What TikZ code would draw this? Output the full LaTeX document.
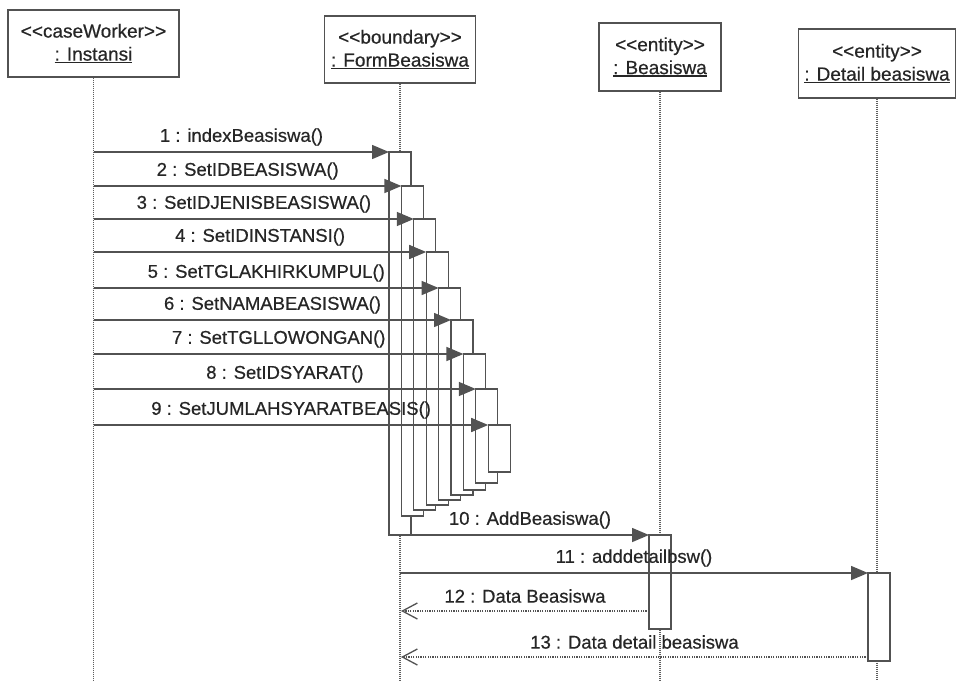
\documentclass[tikz,border=0pt]{standalone}
\usepackage{fontspec}
\setmainfont{Liberation Sans}[FakeBold=0.5]
\usetikzlibrary{arrows.meta}

\definecolor{ink}{HTML}{262626}
\definecolor{edge}{HTML}{525252}
\definecolor{life}{HTML}{5E5E5E}

% separate angle brackets so they never merge into guillemets
\newcommand\ltmark{\mbox{<}}
\newcommand\gtmark{\mbox{>}}
\newcommand\stereo[1]{\ltmark\ltmark#1\gtmark\gtmark}
% underlined object name with a firm rule
\newcommand\objname[1]{\setbox0\hbox{#1}\rlap{\rule[-2.6pt]{\wd0}{1.2pt}}\box0}

\tikzset{
  obj/.style={draw=edge, line width=1.4pt, fill=white, align=center,
    inner sep=0pt, text=ink, font=\fontsize{19}{23}\selectfont},
  lifeline/.style={draw=life, line width=1.4pt, dash pattern=on 1pt off 1pt},
  actbox/.style={draw=edge, line width=1.3pt, fill=white, inner sep=0pt,
    outer sep=0pt, minimum width=22pt, anchor=north west},
  call/.style={draw=edge, line width=1.5pt, -{Triangle[length=17pt,width=14pt]}},
  reply/.style={draw=edge, line width=1.3pt, dash pattern=on 1.2pt off 1.2pt,
    -{Straight Barb[length=15pt,width=16pt]}},
  msg/.style={text=ink, inner sep=0pt, font=\fontsize{18.5}{22}\selectfont}
}

\begin{document}
\begin{tikzpicture}[x=1pt,y=-1pt]
\fill[white] (0,0) rectangle (957,680);
\useasboundingbox (0,0) rectangle (957,680);

% participants
\node[obj, minimum width=171pt, minimum height=67pt] (inst) at (93.5,43.5)
  {\stereo{caseWorker}\\\objname{: Instansi}};
\node[obj, minimum width=151pt, minimum height=67pt] (form) at (400,49.5)
  {\stereo{boundary}\\\objname{: FormBeasiswa}};
\node[obj, minimum width=122pt, minimum height=68pt] (beas) at (660,57)
  {\stereo{entity}\\\objname{: Beasiswa}};
\node[obj, minimum width=157pt, minimum height=69pt] (det) at (877,63.5)
  {\stereo{entity}\\\objname{: Detail beasiswa}};

% lifelines
\draw[lifeline] (inst.south) -- (inst.south |- 0,680);
\draw[lifeline] (form.south) -- (form.south |- 0,680);
\draw[lifeline] (beas.south) -- (beas.south |- 0,680);
\draw[lifeline] (det.south) -- (det.south |- 0,680);

% nested activations on the form
\foreach \i/\top/\bot in {1/152/535, 2/186/516, 3/219/510, 4/252/505,
    5/288/500, 6/320/495, 7/354/490, 8/389/483, 9/425/472} {
  \pgfmathsetmacro\lx{389+12.4*(\i-1)}
  \pgfmathsetmacro\hh{\bot-\top}
  \node[actbox, minimum height=\hh pt] (a\i) at (\lx,\top) {};
}
% activations on the entities
\node[actbox, minimum height=94pt] (b1) at (649,535) {};
\node[actbox, minimum height=88pt] (d1) at (868,573) {};

% calls from the case worker
\foreach \i/\y/\txt in {1/152/{1 : indexBeasiswa()},
    2/186/{2 : SetIDBEASISWA()},
    3/219/{3 : SetIDJENISBEASISWA()},
    4/252/{4 : SetIDINSTANSI()},
    5/288/{5 : SetTGLAKHIRKUMPUL()},
    6/320/{6 : SetNAMABEASISWA()},
    7/354/{7 : SetTGLLOWONGAN()},
    8/389/{8 : SetIDSYARAT()},
    9/425/{9 : SetJUMLAHSYARATBEASIS()}} {
  \coordinate (s\i) at (94,\y);
  \draw[call] (s\i) -- (a\i.north west)
    node[msg, midway, yshift=15pt] {\txt};
}

% calls from the form
\draw[call] (a1.south east) -- (b1.north west)
  node[msg, midway, yshift=15pt] {10 : AddBeasiswa()};
\coordinate (m11) at (400,573);
\draw[call] (m11) -- (d1.north west)
  node[msg, midway, yshift=15pt] {11 : adddetailbsw()};

% returns
\coordinate (m12) at (401,611);
\draw[reply] (m12 -| b1.west) -- (m12)
  node[msg, midway, yshift=15pt] {12 : Data Beasiswa};
\coordinate (m13) at (401,657);
\draw[reply] (m13 -| d1.west) -- (m13)
  node[msg, midway, yshift=15pt] {13 : Data detail beasiswa};
\end{tikzpicture}
\end{document}
